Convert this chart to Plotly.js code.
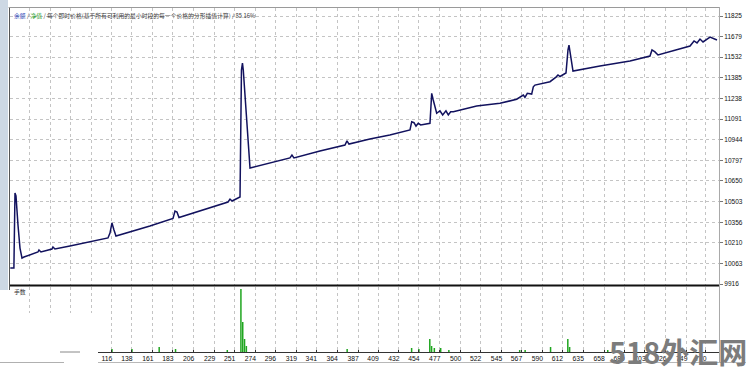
<!DOCTYPE html>
<html>
<head>
<meta charset="utf-8">
<script src="https://cdn.plot.ly/plotly-3.0.1.min.js"></script>
<style>html,body{margin:0;padding:0;background:#fff;}#chart{width:746px;height:373px;}</style>
</head>
<body>
<div id="chart"></div>
<script>
// Equity / balance curve (x = trade index, y = account value)
const tradeIdx = [4,8,9.2,10.3,12.5,14.7,16.9,19.1,34.5,35.6,37.8,49.9,51,53.2,69.7,91.8,111.6,113.8,116,118.2,120.4,157.8,183.2,185.4,187.6,189.8,212.9,234.9,243.8,246,248.2,257,258.6,259.7,260.6,268,290,312,314.2,316.4,345,372.6,374.8,377,400,422,444.2,446.1,448.6,450.8,453.3,456,466.2,468.1,469.8,473.6,477.2,480.2,483.8,486.4,489,491.9,517.6,543.3,561.7,565.3,569,570.8,573.4,578.2,580,581.8,598.4,605,607.2,609.4,616,618.2,619.3,621,623.7,653.4,686.5,708.5,710.7,714,717.3,752.6,757,760.3,763.6,766.9,774.6,782.3];
const equity = [10030,10030,10564,10543,10336,10172,10101,10108,10144,10158,10144,10165,10180,10165,10187,10215,10244,10279,10351,10301,10258,10329,10383,10436,10429,10390,10436,10482,10500,10521,10507,10536,11440,11490,11440,10742,10778,10814,10835,10814,10863,10906,10935,10913,10949,10977,11013,11072,11065,11041,11061,11049,11061,11274,11227,11132,11150,11120,11150,11120,11143,11143,11184,11203,11232,11250,11262,11246,11274,11269,11321,11333,11357,11390,11405,11394,11419,11583,11618,11547,11433,11469,11504,11540,11583,11569,11547,11611,11647,11633,11661,11640,11675,11654];

// Lots histogram
const volIdx = [116,138,168,186,243,258,260,262,264,375,446,454,466,468,471,478,487,565,571,599,618,620,662];
const volLots = [0.3,0.3,0.5,0.3,0.2,6.3,3.0,1.3,0.6,0.3,0.4,0.3,1.3,0.6,0.4,0.4,0.2,0.2,0.2,0.5,1.3,0.5,0.2];

// Axis ticks
const yTicks = [9916,10063,10210,10356,10503,10650,10797,10944,11091,11238,11385,11532,11679,11825];
const xTicks = [25,48,70,93,116,138,161,183,206,229,251,274,296,319,341,364,387,409,432,454,477,500,522,545,567,590,612,635,658,680,703,726,749,770];
const xTickText = ["","","","","116","138","161","183","206","229","251","274","296","319","341","364","387","409","432","454","477","500","522","545","567","590","612","635","658","680","703","726","749","770"];

const titleParts = ["余额", "净值", "每个即时价格(基于所有可利用的最小时段的每一个价格的分形插值计算)", "85.16%"];
const paneLabel = "手数";
const watermark = "518外汇网";

const tickFont = {family: "Liberation Sans, Arial, sans-serif", size: 6.5, color: "#111"};
const cjk = "Noto Sans CJK SC, sans-serif";

// spikes for the lots histogram (vertical segments from 0 to value)
const spikeX = [], spikeY = [];
volIdx.forEach((v, i) => { spikeX.push(v, v, null); spikeY.push(0, volLots[i], null); });

const traces = [
  {x: tradeIdx, y: equity, type: "scatter", mode: "lines", xaxis: "x", yaxis: "y",
   line: {color: "#12125e", width: 1.5}, hoverinfo: "skip"},
  {x: spikeX, y: spikeY, type: "scatter", mode: "lines", xaxis: "x", yaxis: "y2",
   line: {color: "#1fa51f", width: 1.5}, connectgaps: false, hoverinfo: "skip"}
];

const layout = {
  width: 746, height: 373,
  margin: {l: 10, r: 27, t: 8, b: 21},
  paper_bgcolor: "#ffffff", plot_bgcolor: "#ffffff",
  showlegend: false,
  xaxis: {
    anchor: "y2", range: [3.7, 784.5],
    tickmode: "array", tickvals: xTicks, ticktext: xTickText,
    ticks: "inside", ticklen: 2, tickcolor: "#333", tickwidth: 1,
    ticklabelshift: -5,
    tickfont: {family: "Liberation Sans, Arial, sans-serif", size: 6.8, color: "#111"},
    showgrid: true, gridcolor: "#c4c4c4", griddash: "dot", gridwidth: 1,
    showline: true, linecolor: "#333", linewidth: 1,
    zeroline: false, fixedrange: true
  },
  yaxis: {
    domain: [0.1948, 1], anchor: "x", side: "right",
    range: [9909, 11882],
    tickmode: "array", tickvals: yTicks, ticktext: yTicks.map(String),
    ticks: "outside", ticklen: 3, tickcolor: "#777",
    tickfont: tickFont,
    showgrid: true, gridcolor: "#c4c4c4", griddash: "dot", gridwidth: 1,
    zeroline: false, showline: false, fixedrange: true
  },
  yaxis2: {
    domain: [0, 0.189], anchor: "x", range: [0, 6.5],
    showgrid: false, showticklabels: false, ticks: "", zeroline: false,
    showline: false, fixedrange: true
  },
  shapes: [
    {type: "rect", xref: "paper", yref: "paper", x0: -0.0141, x1: -0.0028, y0: (352-290)/344, y1: (352-0)/344,
     fillcolor: "#cdd8e4", line: {width: 0}, layer: "above"},
    {type: "line", xref: "paper", yref: "paper", x0: -0.0007, x1: -0.0007, y0: (352-290)/344, y1: (352-7)/344,
     line: {color: "#555", width: 1}, layer: "above"},
    {type: "line", xref: "paper", yref: "paper", x0: -0.002, x1: 1.001, y0: (352-7.5)/344, y1: (352-7.5)/344,
     line: {color: "#9a9a9a", width: 1}, layer: "above"},
    {type: "line", xref: "paper", yref: "paper", x0: 0, x1: 1, y0: (352-285.5)/344, y1: (352-285.5)/344,
     line: {color: "#111", width: 2}, layer: "above"},
    {type: "line", xref: "paper", yref: "paper", x0: 1.0007, x1: 1.0007, y0: (352-362)/344, y1: (352-7)/344,
     line: {color: "#a8a8a8", width: 1}, layer: "above"},
    {type: "line", xref: "paper", yref: "paper", x0: -0.0141, x1: 1.038, y0: (352-362.5)/344, y1: (352-362.5)/344,
     line: {color: "#b8b8b8", width: 1}, layer: "above"},
    {type: "rect", xref: "paper", yref: "paper", x0: -0.0141, x1: (98-10)/709, y0: (352-373)/344, y1: (352-313)/344,
     fillcolor: "#ffffff", line: {width: 0}, layer: "above"},
    {type: "line", xref: "paper", yref: "paper", x0: -0.0141, x1: (64-10)/709, y0: (352-362.5)/344, y1: (352-362.5)/344,
     line: {color: "#b0b0b0", width: 1}, layer: "above"},
    {type: "line", xref: "paper", yref: "paper", x0: (60-10)/709, x1: (80-10)/709, y0: 0, y1: 0,
     line: {color: "#888", width: 1}, layer: "above"}
  ],
  annotations: [
    {xref: "paper", yref: "paper", x: (12-10)/709, y: (352-15)/344, xanchor: "left", yanchor: "middle",
     showarrow: false,
     text: '<span style="color:#2a44b8">' + titleParts[0] + '</span> / <span style="color:#1c9a1c">' + titleParts[1] +
           '</span> / ' + titleParts[2] + ' / ' + titleParts[3],
     font: {family: cjk, size: 5.8, color: "#3a3a3a"}},
    {xref: "paper", yref: "paper", x: (12-10)/709, y: (352-291)/344, xanchor: "left", yanchor: "middle",
     showarrow: false, text: paneLabel, font: {family: cjk, size: 5.8, color: "#333"}},
    {xref: "paper", yref: "paper", x: (678-10)/709, y: (352-351)/344, xanchor: "center", yanchor: "middle",
     showarrow: false, text: "<b>" + watermark + "</b>",
     font: {family: cjk, size: 29, color: "#7c7c7c"}}
  ]
};

Plotly.newPlot("chart", traces, layout, {staticPlot: true, displayModeBar: false});
</script>
</body>
</html>
